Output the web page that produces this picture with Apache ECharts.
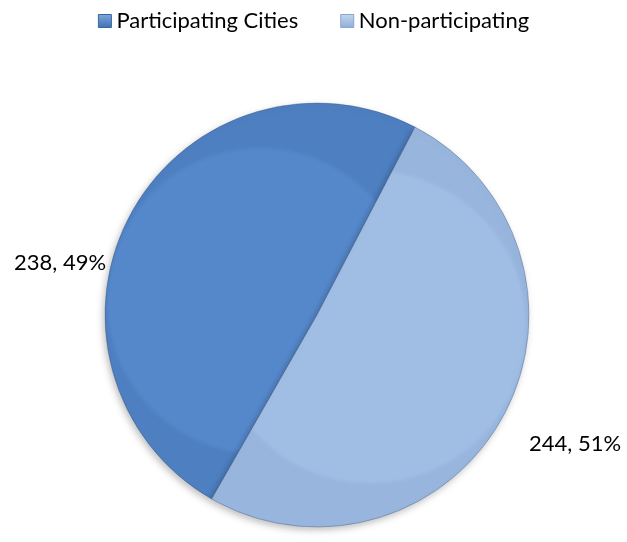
<!DOCTYPE html>
<html>
<head>
<meta charset="utf-8">
<script src="https://cdn.jsdelivr.net/npm/echarts@6/dist/echarts.min.js"></script>
<style>html,body{margin:0;padding:0;background:#fff}#c{width:627px;height:542px}</style>
</head>
<body>
<div id="c"></div>
<script>
var categories = ['Participating Cities', 'Non-participating'];
var values = [238, 244];
var percentLabels = ['49%', '51%'];
var colors = ['#5588CB', '#A0BDE3'];

var chart = echarts.init(document.getElementById('c'));
var data = categories.map(function (c, i) {
  return {
    name: c,
    value: values[i],
    itemStyle: {
      color: {
        type: 'radial', x: 0.5, y: 0.5, r: 0.5,
        colorStops: [
          { offset: 0, color: colors[i] },
          { offset: 0.965, color: colors[i] },
          { offset: 1, color: i === 0 ? '#4D7FC1' : '#97B5DD' }
        ]
      }
    }
  };
});
var labelPos = [
  { x: 60, y: 263 },
  { x: 575, y: 444 }
];
chart.setOption({
  animation: false,
  legend: {
    top: 5,
    left: 'center',
    itemWidth: 13,
    itemHeight: 13,
    itemGap: 42,
    icon: 'rect',
    textStyle: { fontFamily: 'Lato', fontSize: 22, color: '#000' },
    data: categories.map(function (c, i) {
      return {
        name: c,
        itemStyle: {
          color: {
            type: 'linear', x: 0, y: 0, x2: 0, y2: 1,
            colorStops: [
              { offset: 0, color: i === 0 ? '#7FA8DD' : '#C4D6EE' },
              { offset: 1, color: i === 0 ? '#3E6FB0' : '#8FAED8' }
            ]
          },
          borderColor: i === 0 ? '#3A66A0' : '#8AA6CC',
          borderWidth: 1
        }
      };
    })
  },
  series: [{
    type: 'pie',
    center: [317, 315],
    radius: 212,
    startAngle: 240.2,
    clockwise: true,
    data: data,
    itemStyle: {
      borderColor: 'rgba(40,60,100,0.3)',
      borderWidth: 1,
      shadowBlur: 7,
      shadowOffsetX: -2,
      shadowOffsetY: 3,
      shadowColor: 'rgba(0,0,0,0.25)'
    },
    label: {
      show: true,
      position: 'outside',
      overflow: 'none',
      width: 140,
      fontFamily: 'Lato',
      fontSize: 22,
      color: '#000',
      formatter: function (p) {
        return p.value + ', ' + percentLabels[p.dataIndex];
      }
    },
    labelLine: { show: false },
    labelLayout: function (p) {
      var q = labelPos[p.dataIndex];
      return { x: q.x, y: q.y, align: 'center', verticalAlign: 'middle' };
    }
  }]
});
</script>
</body>
</html>
